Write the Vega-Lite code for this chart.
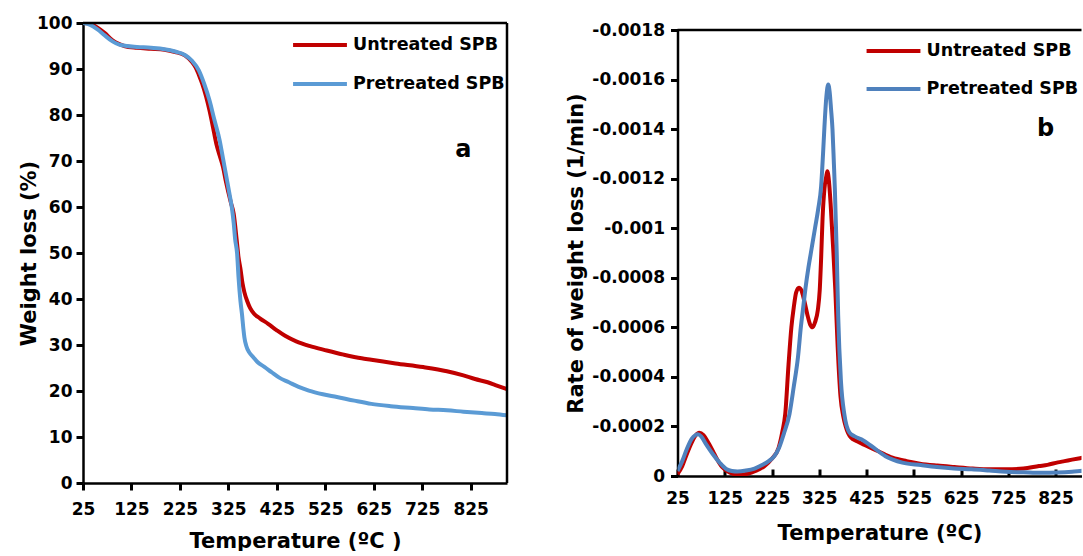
{
  "$schema": "https://vega.github.io/schema/vega-lite/v6.json",
  "background": "white",
  "autosize": {"type": "pad"},
  "padding": {"left": 18, "top": 14, "right": 0, "bottom": 0},
  "config": {
    "view": {"stroke": null},
    "axis": {
      "domainColor": "black", "domainWidth": 2.5,
      "labelColor": "black", "labelFont": "DejaVu Sans", "labelFontWeight": "bold", "labelFontSize": 17,
      "titleFont": "DejaVu Sans", "titleFontWeight": "bold", "titleFontSize": 21, "titleColor": "black",
      "grid": false, "labelFlush": false, "labelOverlap": false
    },
    "legend": {
      "orient": "none", "title": null, "symbolType": "stroke", "symbolStrokeWidth": 4, "symbolSize": 2900,
      "labelFont": "DejaVu Sans", "labelFontWeight": "bold", "labelFontSize": 17.5, "labelColor": "black",
      "padding": 0, "labelOffset": 4, "rowPadding": 1
    }
  },
  "datasets": {
    "tga": [
      {"sample": "Untreated SPB", "T": 25, "W": 100}, {"sample": "Untreated SPB", "T": 40, "W": 99.8}, {"sample": "Untreated SPB", "T": 55, "W": 99}, {"sample": "Untreated SPB", "T": 70, "W": 97.8}, {"sample": "Untreated SPB", "T": 86, "W": 96.2}, {"sample": "Untreated SPB", "T": 100, "W": 95.4}, {"sample": "Untreated SPB", "T": 110, "W": 95.0}, {"sample": "Untreated SPB", "T": 136, "W": 94.6}, {"sample": "Untreated SPB", "T": 165, "W": 94.4}, {"sample": "Untreated SPB", "T": 193, "W": 94.2}, {"sample": "Untreated SPB", "T": 215, "W": 93.7}, {"sample": "Untreated SPB", "T": 236, "W": 92.9}, {"sample": "Untreated SPB", "T": 250, "W": 91.5}, {"sample": "Untreated SPB", "T": 257, "W": 90.4}, {"sample": "Untreated SPB", "T": 265, "W": 88.5}, {"sample": "Untreated SPB", "T": 271, "W": 86.8}, {"sample": "Untreated SPB", "T": 279, "W": 84}, {"sample": "Untreated SPB", "T": 286, "W": 81}, {"sample": "Untreated SPB", "T": 293, "W": 77.5}, {"sample": "Untreated SPB", "T": 300, "W": 73.8}, {"sample": "Untreated SPB", "T": 307, "W": 71.2}, {"sample": "Untreated SPB", "T": 314, "W": 68.7}, {"sample": "Untreated SPB", "T": 320, "W": 65.5}, {"sample": "Untreated SPB", "T": 325, "W": 63.2}, {"sample": "Untreated SPB", "T": 330, "W": 61}, {"sample": "Untreated SPB", "T": 336, "W": 58.5}, {"sample": "Untreated SPB", "T": 342, "W": 53}, {"sample": "Untreated SPB", "T": 346, "W": 49}, {"sample": "Untreated SPB", "T": 350, "W": 46.5}, {"sample": "Untreated SPB", "T": 354, "W": 43.5}, {"sample": "Untreated SPB", "T": 358, "W": 41.5}, {"sample": "Untreated SPB", "T": 364, "W": 39.5}, {"sample": "Untreated SPB", "T": 370, "W": 38}, {"sample": "Untreated SPB", "T": 378, "W": 36.8}, {"sample": "Untreated SPB", "T": 390, "W": 35.8}, {"sample": "Untreated SPB", "T": 407, "W": 34.6}, {"sample": "Untreated SPB", "T": 425, "W": 33.2}, {"sample": "Untreated SPB", "T": 442, "W": 32.0}, {"sample": "Untreated SPB", "T": 465, "W": 30.8}, {"sample": "Untreated SPB", "T": 492, "W": 29.8}, {"sample": "Untreated SPB", "T": 528, "W": 28.8}, {"sample": "Untreated SPB", "T": 563, "W": 27.9}, {"sample": "Untreated SPB", "T": 600, "W": 27.1}, {"sample": "Untreated SPB", "T": 620, "W": 26.8}, {"sample": "Untreated SPB", "T": 670, "W": 26.0}, {"sample": "Untreated SPB", "T": 727, "W": 25.2}, {"sample": "Untreated SPB", "T": 776, "W": 24.3}, {"sample": "Untreated SPB", "T": 810, "W": 23.4}, {"sample": "Untreated SPB", "T": 834, "W": 22.6}, {"sample": "Untreated SPB", "T": 860, "W": 21.9}, {"sample": "Untreated SPB", "T": 876, "W": 21.3}, {"sample": "Untreated SPB", "T": 900, "W": 20.4},
      {"sample": "Pretreated SPB", "T": 25, "W": 100}, {"sample": "Pretreated SPB", "T": 40, "W": 99.6}, {"sample": "Pretreated SPB", "T": 55, "W": 98.6}, {"sample": "Pretreated SPB", "T": 70, "W": 97.3}, {"sample": "Pretreated SPB", "T": 86, "W": 96}, {"sample": "Pretreated SPB", "T": 100, "W": 95.3}, {"sample": "Pretreated SPB", "T": 115, "W": 95.0}, {"sample": "Pretreated SPB", "T": 136, "W": 94.8}, {"sample": "Pretreated SPB", "T": 165, "W": 94.6}, {"sample": "Pretreated SPB", "T": 193, "W": 94.3}, {"sample": "Pretreated SPB", "T": 215, "W": 93.8}, {"sample": "Pretreated SPB", "T": 236, "W": 93.0}, {"sample": "Pretreated SPB", "T": 250, "W": 91.8}, {"sample": "Pretreated SPB", "T": 264, "W": 89.7}, {"sample": "Pretreated SPB", "T": 275, "W": 86.8}, {"sample": "Pretreated SPB", "T": 286, "W": 83.2}, {"sample": "Pretreated SPB", "T": 296, "W": 79}, {"sample": "Pretreated SPB", "T": 307, "W": 74.5}, {"sample": "Pretreated SPB", "T": 314, "W": 70.5}, {"sample": "Pretreated SPB", "T": 321, "W": 66.5}, {"sample": "Pretreated SPB", "T": 327, "W": 63}, {"sample": "Pretreated SPB", "T": 332, "W": 60}, {"sample": "Pretreated SPB", "T": 336, "W": 56.5}, {"sample": "Pretreated SPB", "T": 339, "W": 53}, {"sample": "Pretreated SPB", "T": 343, "W": 49.9}, {"sample": "Pretreated SPB", "T": 346, "W": 44.7}, {"sample": "Pretreated SPB", "T": 350, "W": 39.5}, {"sample": "Pretreated SPB", "T": 353, "W": 36.8}, {"sample": "Pretreated SPB", "T": 356, "W": 33.5}, {"sample": "Pretreated SPB", "T": 358, "W": 31.7}, {"sample": "Pretreated SPB", "T": 362, "W": 29.8}, {"sample": "Pretreated SPB", "T": 368, "W": 28.4}, {"sample": "Pretreated SPB", "T": 376, "W": 27.4}, {"sample": "Pretreated SPB", "T": 385, "W": 26.3}, {"sample": "Pretreated SPB", "T": 400, "W": 25.2}, {"sample": "Pretreated SPB", "T": 414, "W": 24.1}, {"sample": "Pretreated SPB", "T": 430, "W": 22.9}, {"sample": "Pretreated SPB", "T": 450, "W": 21.9}, {"sample": "Pretreated SPB", "T": 470, "W": 20.9}, {"sample": "Pretreated SPB", "T": 491, "W": 20.1}, {"sample": "Pretreated SPB", "T": 520, "W": 19.3}, {"sample": "Pretreated SPB", "T": 549, "W": 18.7}, {"sample": "Pretreated SPB", "T": 585, "W": 17.9}, {"sample": "Pretreated SPB", "T": 620, "W": 17.2}, {"sample": "Pretreated SPB", "T": 660, "W": 16.7}, {"sample": "Pretreated SPB", "T": 706, "W": 16.3}, {"sample": "Pretreated SPB", "T": 740, "W": 16.0}, {"sample": "Pretreated SPB", "T": 776, "W": 15.8}, {"sample": "Pretreated SPB", "T": 810, "W": 15.5}, {"sample": "Pretreated SPB", "T": 848, "W": 15.2}, {"sample": "Pretreated SPB", "T": 875, "W": 15.0}, {"sample": "Pretreated SPB", "T": 900, "W": 14.7}
    ],
    "dtg": [
      {"sample": "Untreated SPB", "T": 25, "R": -0.000007}, {"sample": "Untreated SPB", "T": 35, "R": -0.00004}, {"sample": "Untreated SPB", "T": 45, "R": -0.00009}, {"sample": "Untreated SPB", "T": 55, "R": -0.000135}, {"sample": "Untreated SPB", "T": 63, "R": -0.000163}, {"sample": "Untreated SPB", "T": 71, "R": -0.000175}, {"sample": "Untreated SPB", "T": 80, "R": -0.000165}, {"sample": "Untreated SPB", "T": 90, "R": -0.000135}, {"sample": "Untreated SPB", "T": 100, "R": -0.0001}, {"sample": "Untreated SPB", "T": 107, "R": -0.000074}, {"sample": "Untreated SPB", "T": 120, "R": -0.000035}, {"sample": "Untreated SPB", "T": 136, "R": -0.000013}, {"sample": "Untreated SPB", "T": 155, "R": -0.000005}, {"sample": "Untreated SPB", "T": 173, "R": -0.000009}, {"sample": "Untreated SPB", "T": 190, "R": -0.00002}, {"sample": "Untreated SPB", "T": 209, "R": -0.00004}, {"sample": "Untreated SPB", "T": 225, "R": -0.00007}, {"sample": "Untreated SPB", "T": 239, "R": -0.000114}, {"sample": "Untreated SPB", "T": 247, "R": -0.00018}, {"sample": "Untreated SPB", "T": 253, "R": -0.00025}, {"sample": "Untreated SPB", "T": 260, "R": -0.00045}, {"sample": "Untreated SPB", "T": 266, "R": -0.0006}, {"sample": "Untreated SPB", "T": 271, "R": -0.00068}, {"sample": "Untreated SPB", "T": 276, "R": -0.00074}, {"sample": "Untreated SPB", "T": 282, "R": -0.00076}, {"sample": "Untreated SPB", "T": 287, "R": -0.00075}, {"sample": "Untreated SPB", "T": 293, "R": -0.00071}, {"sample": "Untreated SPB", "T": 300, "R": -0.00065}, {"sample": "Untreated SPB", "T": 306, "R": -0.00061}, {"sample": "Untreated SPB", "T": 311, "R": -0.0006}, {"sample": "Untreated SPB", "T": 316, "R": -0.00062}, {"sample": "Untreated SPB", "T": 322, "R": -0.00067}, {"sample": "Untreated SPB", "T": 326, "R": -0.00075}, {"sample": "Untreated SPB", "T": 329, "R": -0.00088}, {"sample": "Untreated SPB", "T": 332, "R": -0.00104}, {"sample": "Untreated SPB", "T": 336, "R": -0.00116}, {"sample": "Untreated SPB", "T": 340, "R": -0.00121}, {"sample": "Untreated SPB", "T": 342, "R": -0.00123}, {"sample": "Untreated SPB", "T": 345, "R": -0.0012}, {"sample": "Untreated SPB", "T": 349, "R": -0.0011}, {"sample": "Untreated SPB", "T": 352, "R": -0.001}, {"sample": "Untreated SPB", "T": 355, "R": -0.0009}, {"sample": "Untreated SPB", "T": 359, "R": -0.00075}, {"sample": "Untreated SPB", "T": 364, "R": -0.00052}, {"sample": "Untreated SPB", "T": 370, "R": -0.00032}, {"sample": "Untreated SPB", "T": 376, "R": -0.00024}, {"sample": "Untreated SPB", "T": 381, "R": -0.0002}, {"sample": "Untreated SPB", "T": 392, "R": -0.000155}, {"sample": "Untreated SPB", "T": 405, "R": -0.00014}, {"sample": "Untreated SPB", "T": 421, "R": -0.000125}, {"sample": "Untreated SPB", "T": 450, "R": -0.0001}, {"sample": "Untreated SPB", "T": 480, "R": -0.000074}, {"sample": "Untreated SPB", "T": 510, "R": -0.00006}, {"sample": "Untreated SPB", "T": 538, "R": -0.00005}, {"sample": "Untreated SPB", "T": 575, "R": -0.000042}, {"sample": "Untreated SPB", "T": 611, "R": -0.000036}, {"sample": "Untreated SPB", "T": 650, "R": -0.00003}, {"sample": "Untreated SPB", "T": 684, "R": -0.000027}, {"sample": "Untreated SPB", "T": 720, "R": -0.000027}, {"sample": "Untreated SPB", "T": 757, "R": -0.00003}, {"sample": "Untreated SPB", "T": 790, "R": -0.00004}, {"sample": "Untreated SPB", "T": 808, "R": -0.000045}, {"sample": "Untreated SPB", "T": 830, "R": -0.000055}, {"sample": "Untreated SPB", "T": 844, "R": -0.00006}, {"sample": "Untreated SPB", "T": 860, "R": -0.000066}, {"sample": "Untreated SPB", "T": 877, "R": -0.000072}, {"sample": "Untreated SPB", "T": 900, "R": -0.00008},
      {"sample": "Pretreated SPB", "T": 25, "R": -0.00002}, {"sample": "Pretreated SPB", "T": 35, "R": -0.00006}, {"sample": "Pretreated SPB", "T": 45, "R": -0.00011}, {"sample": "Pretreated SPB", "T": 55, "R": -0.00015}, {"sample": "Pretreated SPB", "T": 63, "R": -0.000165}, {"sample": "Pretreated SPB", "T": 68, "R": -0.000168}, {"sample": "Pretreated SPB", "T": 75, "R": -0.00016}, {"sample": "Pretreated SPB", "T": 85, "R": -0.00013}, {"sample": "Pretreated SPB", "T": 100, "R": -0.000088}, {"sample": "Pretreated SPB", "T": 115, "R": -0.000052}, {"sample": "Pretreated SPB", "T": 129, "R": -0.000027}, {"sample": "Pretreated SPB", "T": 140, "R": -0.00002}, {"sample": "Pretreated SPB", "T": 152, "R": -0.000018}, {"sample": "Pretreated SPB", "T": 170, "R": -0.000022}, {"sample": "Pretreated SPB", "T": 188, "R": -0.00003}, {"sample": "Pretreated SPB", "T": 205, "R": -0.000045}, {"sample": "Pretreated SPB", "T": 218, "R": -0.00006}, {"sample": "Pretreated SPB", "T": 230, "R": -0.00008}, {"sample": "Pretreated SPB", "T": 240, "R": -0.000114}, {"sample": "Pretreated SPB", "T": 250, "R": -0.00017}, {"sample": "Pretreated SPB", "T": 262, "R": -0.00025}, {"sample": "Pretreated SPB", "T": 271, "R": -0.00036}, {"sample": "Pretreated SPB", "T": 280, "R": -0.00048}, {"sample": "Pretreated SPB", "T": 286, "R": -0.0006}, {"sample": "Pretreated SPB", "T": 291, "R": -0.00068}, {"sample": "Pretreated SPB", "T": 296, "R": -0.00076}, {"sample": "Pretreated SPB", "T": 302, "R": -0.00084}, {"sample": "Pretreated SPB", "T": 309, "R": -0.00092}, {"sample": "Pretreated SPB", "T": 316, "R": -0.001}, {"sample": "Pretreated SPB", "T": 323, "R": -0.00108}, {"sample": "Pretreated SPB", "T": 329, "R": -0.00117}, {"sample": "Pretreated SPB", "T": 333, "R": -0.0013}, {"sample": "Pretreated SPB", "T": 336, "R": -0.00141}, {"sample": "Pretreated SPB", "T": 340, "R": -0.00153}, {"sample": "Pretreated SPB", "T": 344, "R": -0.00158}, {"sample": "Pretreated SPB", "T": 347, "R": -0.00155}, {"sample": "Pretreated SPB", "T": 350, "R": -0.00148}, {"sample": "Pretreated SPB", "T": 353, "R": -0.0014}, {"sample": "Pretreated SPB", "T": 356, "R": -0.00126}, {"sample": "Pretreated SPB", "T": 358, "R": -0.00116}, {"sample": "Pretreated SPB", "T": 362, "R": -0.0009}, {"sample": "Pretreated SPB", "T": 365, "R": -0.00065}, {"sample": "Pretreated SPB", "T": 371, "R": -0.00038}, {"sample": "Pretreated SPB", "T": 378, "R": -0.00025}, {"sample": "Pretreated SPB", "T": 389, "R": -0.000175}, {"sample": "Pretreated SPB", "T": 400, "R": -0.00016}, {"sample": "Pretreated SPB", "T": 414, "R": -0.000148}, {"sample": "Pretreated SPB", "T": 436, "R": -0.00012}, {"sample": "Pretreated SPB", "T": 465, "R": -0.00008}, {"sample": "Pretreated SPB", "T": 501, "R": -0.000054}, {"sample": "Pretreated SPB", "T": 540, "R": -0.000044}, {"sample": "Pretreated SPB", "T": 574, "R": -0.000036}, {"sample": "Pretreated SPB", "T": 610, "R": -0.00003}, {"sample": "Pretreated SPB", "T": 647, "R": -0.000027}, {"sample": "Pretreated SPB", "T": 685, "R": -0.000022}, {"sample": "Pretreated SPB", "T": 720, "R": -0.000017}, {"sample": "Pretreated SPB", "T": 757, "R": -0.000015}, {"sample": "Pretreated SPB", "T": 793, "R": -0.000013}, {"sample": "Pretreated SPB", "T": 830, "R": -0.000014}, {"sample": "Pretreated SPB", "T": 860, "R": -0.000017}, {"sample": "Pretreated SPB", "T": 877, "R": -0.00002}, {"sample": "Pretreated SPB", "T": 900, "R": -0.000024}
    ]
  },
  "spacing": 170.5,
  "bounds": "flush",
  "center": true,
  "resolve": {"scale": {"color": "independent"}, "legend": {"color": "independent"}},
  "hconcat": [
    {
      "width": 424, "height": 460,
      "layer": [
        {
          "data": {"name": "tga"},
          "mark": {"type": "line", "interpolate": "monotone", "strokeWidth": 4, "clip": true},
          "encoding": {
            "x": {"field": "T", "type": "quantitative", "scale": {"domain": [25, 900], "nice": false, "zero": false},
                  "axis": {"values": [25, 125, 225, 325, 425, 525, 625, 725, 825], "title": "Temperature (ºC )", "ticks": true, "tickColor": "#000000", "tickSize": 7, "tickWidth": 3, "labelPadding": 11, "titlePadding": 13}},
            "y": {"field": "W", "type": "quantitative", "scale": {"domain": [0, 100], "nice": false},
                  "axis": {"values": [0, 10, 20, 30, 40, 50, 60, 70, 80, 90, 100], "title": "Weight loss (%)", "ticks": true, "tickColor": "#000000", "tickSize": 7, "tickWidth": 3, "labelPadding": 4, "titlePadding": -3}},
            "color": {"field": "sample", "type": "nominal", "sort": null,
                      "scale": {"domain": ["Untreated SPB", "Pretreated SPB"], "range": ["#C00000", "#5B9BD5"]},
                      "legend": {"legendX": 208, "legendY": -7}}
          }
        },
        {"data": {"values": [{}]}, "mark": {"type": "rule", "color": "black", "strokeWidth": 2.5}, "encoding": {"y": {"datum": 100}}},
        {"data": {"values": [{}]}, "mark": {"type": "rule", "color": "black", "strokeWidth": 2.5}, "encoding": {"x": {"datum": 900}}},
        {"data": {"values": [{}]}, "mark": {"type": "text", "font": "DejaVu Sans", "fontWeight": "bold", "fontSize": 24, "color": "black", "align": "center", "baseline": "alphabetic"},
         "encoding": {"x": {"datum": 810}, "y": {"datum": 70.8}, "text": {"value": "a"}}}
      ]
    },
    {
      "width": 404, "height": 446,
      "layer": [
        {
          "data": {"name": "dtg"},
          "mark": {"type": "line", "interpolate": "monotone", "strokeWidth": 4, "clip": true},
          "encoding": {
            "x": {"field": "T", "type": "quantitative", "scale": {"domain": [25, 880], "nice": false, "zero": false},
                  "axis": {"values": [25, 125, 225, 325, 425, 525, 625, 725, 825], "title": "Temperature (ºC)", "ticks": true, "tickColor": "#000000", "tickSize": -7, "tickWidth": 3, "labelPadding": 21, "titlePadding": 16}},
            "y": {"field": "R", "type": "quantitative", "scale": {"domain": [-0.0018, 0], "reverse": true, "nice": false, "zero": false},
                  "axis": {"values": [-0.0018, -0.0016, -0.0014, -0.0012, -0.001, -0.0008, -0.0006, -0.0004, -0.0002, 0],
                           "labelExpr": "datum.value == 0 ? '0' : '-' + format(abs(datum.value), '~g')",
                           "title": "Rate of weight loss (1/min)", "ticks": true, "tickColor": "#000000", "tickSize": 7, "tickWidth": 3, "labelPadding": 6, "titlePadding": 5}},
            "color": {"field": "sample", "type": "nominal", "sort": null,
                      "scale": {"domain": ["Untreated SPB", "Pretreated SPB"], "range": ["#C00000", "#4F81BD"]},
                      "legend": {"legendX": 187, "legendY": -8, "rowPadding": -5}}
          }
        },
        {"data": {"values": [{}]}, "mark": {"type": "rule", "color": "black", "strokeWidth": 2.5}, "encoding": {"y": {"datum": -0.0018}}},
        {"data": {"values": [{}]}, "mark": {"type": "text", "font": "DejaVu Sans", "fontWeight": "bold", "fontSize": 24, "color": "black", "align": "center", "baseline": "alphabetic"},
         "encoding": {"x": {"datum": 804}, "y": {"datum": -0.001374}, "text": {"value": "b"}}}
      ]
    }
  ]
}
